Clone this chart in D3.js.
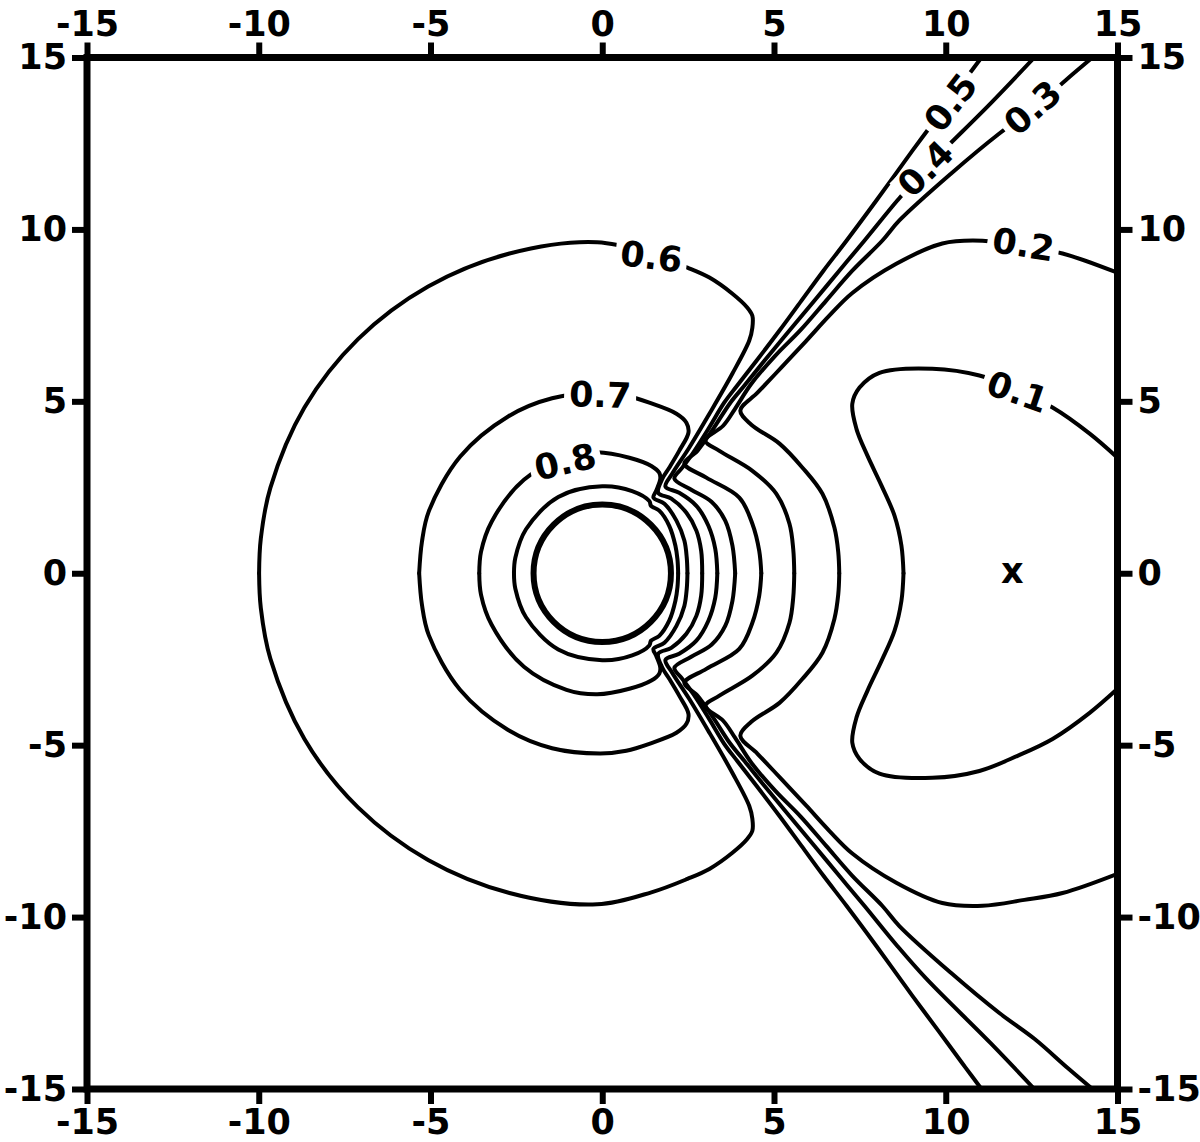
<!DOCTYPE html>
<html><head><meta charset="utf-8">
<script src="https://cdn.jsdelivr.net/npm/d3@7"></script>
<style>body{margin:0;background:#fff}</style>
</head><body>
<svg id="chart" width="1200" height="1142"></svg>
<script>
// ---------- data (upper half y>=0; figure is mirror-symmetric about y=0) ----------
const xDomain = [-15, 15];
const yDomain = [-15, 15];
const tickValues = [-15, -10, -5, 0, 5, 10, 15];
const bodyRadius = 2.0;
const markerPoint = {x: 11.94, y: 0, text: "x"};

const level01 = [[15.0,3.36],[14.19,4.06],[13.11,4.82],[12.09,5.31],[10.98,5.75],[9.61,5.95],[8.07,5.83],[7.49,5.40],[7.28,4.93],[7.40,4.20],[7.72,3.42],[8.13,2.55],[8.51,1.67],[8.71,0.80],[8.77,0]];
const level02 = [[15.0,8.74],[13.40,9.30],[12.29,9.50],[11.07,9.67],[9.90,9.59],[8.56,9.00],[7.28,8.15],[6.61,7.49],[5.94,6.76],[5.21,5.98],[4.52,5.25],[4.02,4.73],[4.34,4.32],[5.16,3.77],[5.83,3.07],[6.41,2.31],[6.76,1.32],[6.87,0.62],[6.90,0]];
const level03 = [[14.27,15.0],[13.55,14.39],[12.58,13.54],[11.56,12.79],[10.15,11.62],[8.65,10.26],[8.15,9.67],[7.28,8.80],[6.52,7.93],[5.77,7.07],[5.04,6.33],[4.34,5.51],[3.87,4.79],[3.52,4.29],[3.00,3.86],[3.41,3.56],[4.37,2.98],[5.07,2.31],[5.45,1.44],[5.56,0.70],[5.59,0]];
const level04 = [[12.58,15.0],[11.30,13.66],[9.44,11.80],[8.59,10.84],[7.63,9.67],[6.90,8.80],[6.18,7.93],[5.45,7.06],[4.72,6.18],[4.14,5.46],[3.73,4.96],[3.23,4.20],[2.77,3.56],[2.39,3.19],[3.03,2.78],[3.99,2.20],[4.37,1.44],[4.57,0.65],[4.63,0]];
const level05 = [[11.04,15.0],[10.57,14.37],[10.07,13.69],[9.46,12.87],[9.03,12.29],[7.98,10.84],[7.11,9.67],[6.44,8.80],[5.80,7.93],[5.16,7.06],[4.49,6.18],[3.93,5.46],[3.55,4.96],[3.09,4.20],[2.65,3.51],[2.33,3.07],[2.10,2.75],[2.59,2.43],[3.18,2.08],[3.58,1.53],[3.79,0.80],[3.87,0]];
const level06 = [[-9.99,0],[-9.94,1.01],[-9.66,2.49],[-8.67,4.82],[-7.11,6.81],[-5.07,8.34],[-2.70,9.30],[-0.15,9.63],[1.43,9.28],[2.48,8.89],[3.12,8.60],[3.79,8.13],[4.22,7.73],[4.37,7.49],[4.37,7.14],[4.28,6.77],[3.79,5.81],[3.12,4.64],[2.53,3.65],[2.04,2.90],[1.84,2.52],[2.24,2.34],[2.74,1.96],[3.09,1.38],[3.29,0.71],[3.35,0]];
const level07 = [[-5.33,0],[-5.25,0.91],[-5.05,1.80],[-4.14,3.39],[-2.74,4.56],[-1.46,5.09],[-0.06,5.24],[0.70,5.16],[1.37,4.96],[2.16,4.64],[2.45,4.38],[2.51,4.09],[2.24,3.56],[1.95,3.07],[1.75,2.75],[1.63,2.34],[2.01,2.17],[2.45,1.76],[2.74,1.24],[2.88,0.65],[2.91,0]];
const level08 = [[-3.58,0],[-3.53,0.62],[-3.22,1.50],[-2.28,2.72],[-1.04,3.39],[-0.15,3.52],[0.79,3.36],[1.43,3.12],[1.66,2.92],[1.69,2.75],[1.57,2.40],[1.49,2.20],[1.81,2.02],[2.16,1.53],[2.39,0.95],[2.46,0.45],[2.48,0]];
const level09 = [[-2.57,0],[-2.53,0.45],[-2.22,1.28],[-1.28,2.22],[0,2.53],[0.87,2.39],[1.37,2.10],[1.42,1.96],[1.66,1.82],[1.95,1.38],[2.13,0.80],[2.19,0.40],[2.21,0]];

const contourLevels = [0.1,0.2,0.3,0.4,0.5,0.6,0.7,0.8,0.9];
const contourLines = [level01,level02,level03,level04,level05,level06,level07,level08,level09];

const labelTexts  = ["0.1","0.2","0.3","0.4","0.5","0.6","0.7","0.8"];
const labelX      = [12.09,12.26,12.53,9.41,10.14,1.43,-0.06,-1.08];
const labelY      = [5.28,9.56,13.54,11.77,13.69,9.21,5.19,3.24];
const labelAngles = [19,9,-41,-45,-52,7,2,-13];

// ---------- drawing ----------
const svg = d3.select("#chart");
const L = 87, R = 1117.5, T = 57.5, B = 1089;
const x = d3.scaleLinear().domain(xDomain).range([L, R]);
const y = d3.scaleLinear().domain(yDomain).range([B, T]);
// mirrored scale for the lower half (reflection about y = 0)
const yMirror = d3.scaleLinear().domain(yDomain).range([T, B]);

const FONT = "DejaVu Sans";

svg.append("defs").append("clipPath").attr("id","plotclip")
  .append("rect").attr("x",L).attr("y",T).attr("width",R-L).attr("height",B-T);

const plot = svg.append("g").attr("clip-path","url(#plotclip)");

const lineUp = d3.line().x(d=>x(d[0])).y(d=>y(d[1])).curve(d3.curveCatmullRom.alpha(0.5));
const lineDown = d3.line().x(d=>x(d[0])).y(d=>yMirror(d[1])).curve(d3.curveCatmullRom.alpha(0.5));

contourLines.forEach((pts,i)=>{
  [lineUp,lineDown].forEach(gen=>{
    plot.append("path").attr("d",gen(pts))
      .attr("fill","none").attr("stroke","#000").attr("stroke-width",4)
      .attr("stroke-linejoin","round").attr("stroke-linecap","round")
      .attr("class","level-"+contourLevels[i]);
  });
});

// body circle
plot.append("circle").attr("cx",x(0)).attr("cy",y(0))
  .attr("r",x(bodyRadius)-x(0))
  .attr("fill","none").attr("stroke","#000").attr("stroke-width",6);

// contour labels
labelTexts.forEach((t,i)=>{
  const g = plot.append("g")
    .attr("transform",`translate(${x(labelX[i])},${y(labelY[i])}) rotate(${labelAngles[i]})`);
  const bg = g.append("rect").attr("fill","#fff");
  const tx = g.append("text").text(t)
    .attr("text-anchor","middle").attr("dy","0.35em")
    .attr("font-family",FONT).attr("font-weight","bold").attr("font-size",35).attr("fill","#000");
  const w = tx.node().getComputedTextLength();
  bg.attr("x",-w/2-5).attr("y",-15).attr("width",w+10).attr("height",30);
});

// marker
svg.append("text").attr("x",x(markerPoint.x)).attr("y",y(markerPoint.y))
  .attr("dy","0.28em").attr("text-anchor","middle")
  .attr("font-family",FONT).attr("font-weight","bold").attr("font-size",35)
  .text(markerPoint.text);

// axes
const fmt = d => String(d);
function styleAxis(g){
  g.attr("font-family",FONT).attr("font-size",35).attr("font-weight","bold");
  g.select(".domain").remove();
  g.selectAll(".tick line").attr("stroke","#000").attr("stroke-width",6);
  g.selectAll(".tick text").attr("fill","#000");
}
svg.append("g").attr("transform",`translate(0,${T})`)
  .call(d3.axisTop(x).tickValues(tickValues).tickFormat(fmt).tickSize(15).tickPadding(7)).call(styleAxis);
svg.append("g").attr("transform",`translate(0,${B})`)
  .call(d3.axisBottom(x).tickValues(tickValues).tickFormat(fmt).tickSize(15).tickPadding(5)).call(styleAxis);
svg.append("g").attr("transform",`translate(${L},0)`)
  .call(d3.axisLeft(y).tickValues(tickValues).tickFormat(fmt).tickSize(15).tickPadding(5)).call(styleAxis);
svg.append("g").attr("transform",`translate(${R},0)`)
  .call(d3.axisRight(y).tickValues(tickValues).tickFormat(fmt).tickSize(15).tickPadding(5)).call(styleAxis);

// frame
svg.append("rect").attr("x",L).attr("y",T).attr("width",R-L).attr("height",B-T)
  .attr("fill","none").attr("stroke","#000").attr("stroke-width",7);
</script>
</body></html>
